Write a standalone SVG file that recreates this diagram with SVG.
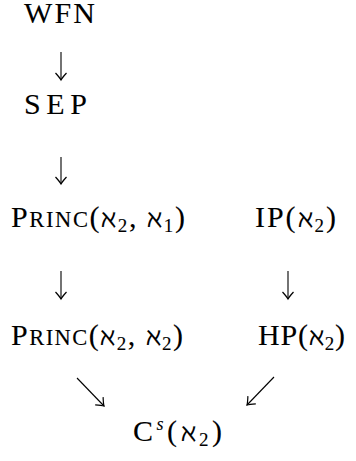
<svg xmlns="http://www.w3.org/2000/svg" width="356" height="461" viewBox="0 0 356 461">
<style>
  text { font-family: "Liberation Serif", "DejaVu Serif", serif; font-size: 30px; fill: #000; stroke: #000; stroke-width: 0.1; }
  .sc { font-size: 22.5px; }
  .al { font-family: "DejaVu Serif", serif; font-size: 25px; }
  .sub { font-size: 19px; }
  .sup { font-size: 18px; font-style: italic; }
  .conn line { stroke: #000; stroke-width: 1.1; fill: none; }
</style>
<defs>
  <marker id="ah" markerUnits="userSpaceOnUse" markerWidth="14" markerHeight="14" viewBox="-8 -7 10 14" refX="0" refY="0" orient="auto">
    <path d="M-7,-5.5 Q-2,-1 0,0 Q-2,1 -7,5.5" fill="none" stroke="#000" stroke-width="1.2"/>
  </marker>
</defs>
<rect width="356" height="461" fill="#fff"/>
<g id="wfn"><text x="24" y="23" textLength="71" lengthAdjust="spacing">WFN</text></g>
<g id="sep"><text x="24" y="114" textLength="63" lengthAdjust="spacing">SEP</text></g>
<g id="princ21"><text x="11" y="227" textLength="174" lengthAdjust="spacing">P<tspan class="sc">RINC</tspan>(<tspan class="al">ℵ</tspan><tspan class="sub" dy="5">2</tspan><tspan dy="-5">, </tspan><tspan class="al">ℵ</tspan><tspan class="sub" dy="5">1</tspan><tspan dy="-5">)</tspan></text></g>
<g id="ip"><text x="255" y="227" textLength="81" lengthAdjust="spacing">IP(<tspan class="al">ℵ</tspan><tspan class="sub" dy="5">2</tspan><tspan dy="-5">)</tspan></text></g>
<g id="princ22"><text x="11" y="345" textLength="172" lengthAdjust="spacing">P<tspan class="sc">RINC</tspan>(<tspan class="al">ℵ</tspan><tspan class="sub" dy="5">2</tspan><tspan dy="-5">, </tspan><tspan class="al">ℵ</tspan><tspan class="sub" dy="5">2</tspan><tspan dy="-5">)</tspan></text></g>
<g id="hp"><text x="258" y="345" textLength="87" lengthAdjust="spacing">HP(<tspan class="al">ℵ</tspan><tspan class="sub" dy="5">2</tspan><tspan dy="-5">)</tspan></text></g>
<g id="cs"><text x="133" y="441" textLength="89" lengthAdjust="spacing">C<tspan class="sup" dy="-11">s</tspan><tspan dy="11">(</tspan><tspan class="al">ℵ</tspan><tspan class="sub" dy="5">2</tspan><tspan dy="-5">)</tspan></text></g>
<g id="connectors" class="conn">
  <line x1="61" y1="52" x2="61" y2="80" marker-end="url(#ah)"/>
  <line x1="61" y1="157" x2="61" y2="184" marker-end="url(#ah)"/>
  <line x1="61" y1="271" x2="61" y2="299" marker-end="url(#ah)"/>
  <line x1="288" y1="271" x2="288" y2="299" marker-end="url(#ah)"/>
  <line x1="77" y1="378" x2="104" y2="406" marker-end="url(#ah)"/>
  <line x1="274" y1="377" x2="247" y2="405" marker-end="url(#ah)"/>
</g>
</svg>
